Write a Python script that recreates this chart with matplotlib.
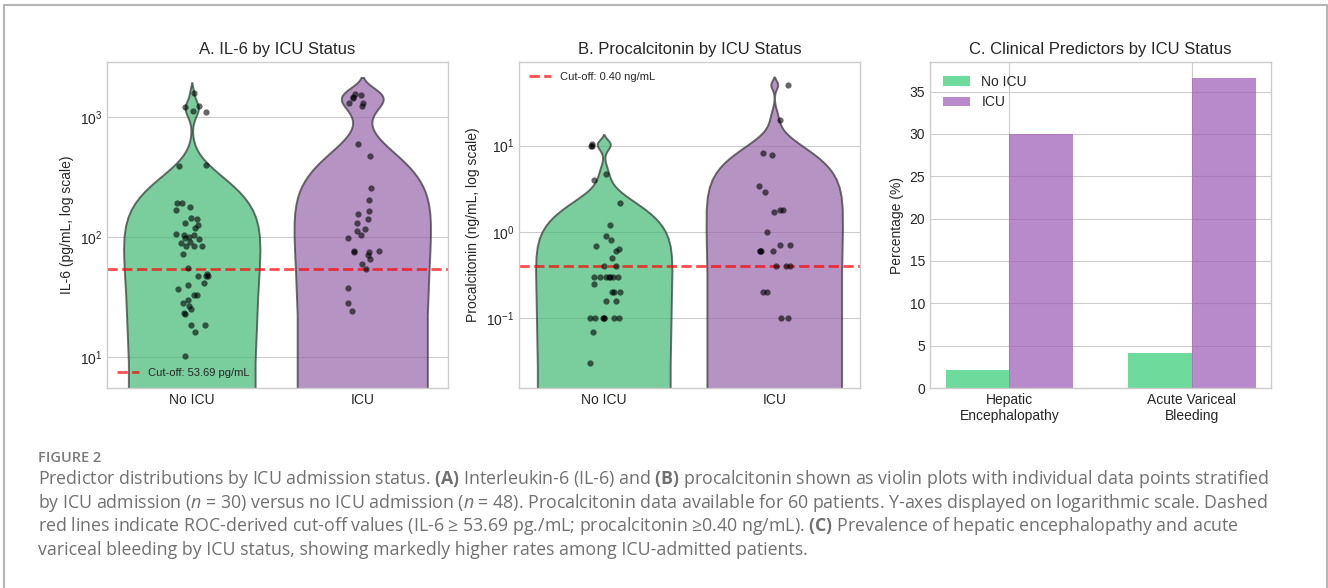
import numpy as np
import pandas as pd
import matplotlib
matplotlib.use('Agg')
import matplotlib.pyplot as plt
import seaborn as sns
from matplotlib.lines import Line2D

plt.style.use('seaborn-v0_8-whitegrid')
plt.rcParams['font.family'] = ['Liberation Sans', 'DejaVu Sans']
plt.rcParams['mathtext.fontset'] = 'custom'
plt.rcParams['mathtext.rm'] = 'Open Sans'
plt.rcParams['mathtext.bf'] = 'Open Sans:bold'
plt.rcParams['mathtext.it'] = 'Open Sans:italic'

# --- data ---
groups = ['No ICU', 'ICU']
colors = ['#2ecc71', '#9b59b6']

il6_no_icu = [1575, 1242, 1205, 1122, 1107, 400, 393, 193, 190, 179, 167, 144, 142,
              131, 125, 118, 106, 104, 103, 99, 97, 96, 90, 89, 84, 84, 84, 72, 55,
              49, 47, 47, 47, 41, 40, 37, 32.5, 32.7, 30, 28.3, 26.6, 25, 23, 22.6,
              18.5, 18.5, 16.2, 10.2]
il6_icu = [1550, 1515, 1460, 1425, 1310, 1300, 1240, 596, 470, 256, 204, 164, 155,
           140, 131, 116, 111, 104, 98.5, 76, 76, 75, 75, 70, 65.6, 59.7, 54.5,
           37.6, 28.3, 24.3]

pct_no_icu_pc = [10.5, 10, 10, 4.7, 4.0, 2.14, 1.2, 0.9, 0.81, 0.69, 0.64, 0.61, 0.5,
                 0.4, 0.4, 0.3, 0.3, 0.3, 0.3, 0.3, 0.3, 0.3, 0.25, 0.2, 0.2, 0.2,
                 0.16, 0.16, 0.1, 0.1, 0.1, 0.1, 0.1, 0.1, 0.1, 0.07, 0.03]
pct_icu_pc = [50, 19.9, 8.3, 7.7, 3.4, 2.9, 1.81, 1.81, 1.72, 1.0, 0.7, 0.7, 0.6, 0.6,
              0.6, 0.6, 0.4, 0.4, 0.4, 0.2, 0.2, 0.1, 0.1]

il6_cutoff = 53.69
pct_cutoff = 0.40

predictors = ['Hepatic\nEncephalopathy', 'Acute Variceal\nBleeding']
prev_no_icu = [2.08, 4.17]
prev_icu = [30.0, 36.67]

df_il6 = pd.DataFrame({
    'group': ['No ICU'] * len(il6_no_icu) + ['ICU'] * len(il6_icu),
    'value': il6_no_icu + il6_icu})
df_pct = pd.DataFrame({
    'group': ['No ICU'] * len(pct_no_icu_pc) + ['ICU'] * len(pct_icu_pc),
    'value': pct_no_icu_pc + pct_icu_pc})

fig = plt.figure(figsize=(13.28, 5.88), dpi=100)
W, H = 1328, 588
def box(l, t, r, b):
    return [l / W, 1 - b / H, (r - l) / W, (b - t) / H]

ax1 = fig.add_axes(box(107, 62, 448, 388))
ax2 = fig.add_axes(box(519, 62, 860, 388))
ax3 = fig.add_axes(box(930, 62, 1271, 388))

np.random.seed(3)


def violin_panel(ax, df, cutoff, label, ylabel, title, ylim, legloc):
    # KDE in linear units, axis switched to log afterwards
    sns.violinplot(data=df, x='group', y='value', hue='group', order=groups,
                   hue_order=groups, palette=colors, legend=False, inner=None,
                   density_norm='width', width=0.8,
                   linewidth=1.4, linecolor='#333333', alpha=0.7, ax=ax)
    sns.stripplot(data=df, x='group', y='value', order=groups, color='black',
                  alpha=0.6, size=4.5, jitter=0.1, ax=ax)
    ax.set_yscale('log')
    ax.axhline(cutoff, color='red', linestyle='--', linewidth=2, alpha=0.7,
               label=label)
    ax.set_ylim(*ylim)
    ax.set_xlabel('')
    ax.set_ylabel(ylabel, fontsize=10)
    ax.set_title(title, fontsize=12)
    ax.tick_params(labelsize=10)
    ax.legend(loc=legloc, fontsize=8)


violin_panel(ax1, df_il6, il6_cutoff, 'Cut-off: 53.69 pg/mL',
             'IL-6 (pg/mL, log scale)', 'A. IL-6 by ICU Status',
             (5.5, 2870), 'lower left')
violin_panel(ax2, df_pct, pct_cutoff, 'Cut-off: 0.40 ng/mL',
             'Procalcitonin (ng/mL, log scale)', 'B. Procalcitonin by ICU Status',
             (0.0156, 93), 'upper left')

x = np.arange(len(predictors))
bw = 0.35
ax3.bar(x - bw / 2, prev_no_icu, bw, label='No ICU', color=colors[0], alpha=0.7)
ax3.bar(x + bw / 2, prev_icu, bw, label='ICU', color=colors[1], alpha=0.7)
ax3.set_xticks(x)
ax3.set_xticklabels(predictors)
ax3.set_ylabel('Percentage (%)', fontsize=10)
ax3.set_title('C. Clinical Predictors by ICU Status', fontsize=12)
ax3.tick_params(labelsize=10)
ax3.legend(loc='upper left', fontsize=10)

# frame around the figure (page style)
for xs, ys in [([4, 1327], [5, 5]), ([4, 4], [5, 588]), ([1327, 1327], [5, 588])]:
    fig.add_artist(Line2D([v / W for v in xs], [1 - v / H for v in ys],
                          color='#b5b5b5', linewidth=1.5))

cap_color = '#707070'
cap_x = 38 / W
fig.text(cap_x, 1 - 462 / H, 'FIGURE 2', fontsize=10.5, family='Open Sans',
         weight='semibold', color='#7a7a7a', va='baseline')
caption = [
    r'Predictor distributions by ICU admission status. $\mathbf{(A)}$ Interleukin-6 (IL-6) and $\mathbf{(B)}$ procalcitonin shown as violin plots with individual data points stratified',
    r'by ICU admission ($\mathit{n}$ = 30) versus no ICU admission ($\mathit{n}$ = 48). Procalcitonin data available for 60 patients. Y-axes displayed on logarithmic scale. Dashed',
    r'red lines indicate ROC-derived cut-off values (IL-6 ≥ 53.69 pg./mL; procalcitonin ≥0.40 ng/mL). $\mathbf{(C)}$ Prevalence of hepatic encephalopathy and acute',
    r'variceal bleeding by ICU status, showing markedly higher rates among ICU-admitted patients.',
]
for i, line in enumerate(caption):
    fig.text(cap_x, 1 - (484 + 23.7 * i) / H, line, fontsize=12.8, family='Open Sans',
             color=cap_color, va='baseline')

fig.savefig('out.png', dpi=100)
